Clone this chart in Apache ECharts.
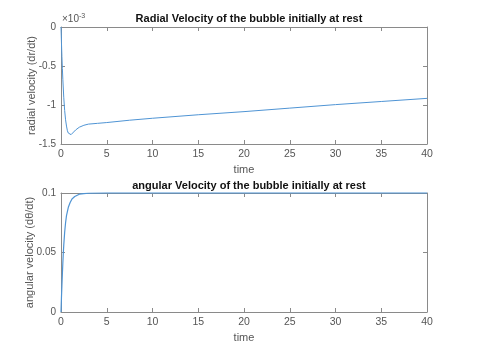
<!DOCTYPE html>
<html lang="en">
<head>
  <meta charset="UTF-8">
  <title>bubble velocity</title>
</head>
<body style="margin:0;background:#fff;">
  <div id="main" style="width: 481px; height:351px;"></div>
  <script src="https://cdn.jsdelivr.net/npm/echarts@6/dist/echarts.min.js"></script>
  <script type="text/javascript">
    // radial velocity, values in units of 1e-3
    var tRadial = [0, 0.05, 0.1, 0.15, 0.2, 0.3, 0.4, 0.5, 0.6, 0.7, 0.8, 0.9, 1.0, 1.1, 1.3, 1.6, 2, 2.5, 3, 4, 5, 7.5, 10, 15, 20, 25, 30, 35, 40];
    var vRadial = [0, -0.2, -0.38, -0.53, -0.67, -0.9, -1.07, -1.19, -1.27, -1.33, -1.36, -1.38, -1.385, -1.38, -1.36, -1.32, -1.285, -1.26, -1.245, -1.235, -1.225, -1.195, -1.17, -1.125, -1.085, -1.04, -0.995, -0.955, -0.915];
    // angular velocity
    var tAngular = [0, 0.05, 0.1, 0.15, 0.2, 0.25, 0.3, 0.4, 0.5, 0.6, 0.8, 1.0, 1.2, 1.5, 2, 2.5, 3, 5, 10, 20, 30, 40];
    var vAngular = [0, 0.012, 0.022, 0.032, 0.041, 0.049, 0.056, 0.067, 0.075, 0.081, 0.088, 0.092, 0.095, 0.097, 0.099, 0.0995, 0.0998, 0.1, 0.1, 0.1, 0.1, 0.1];

    function pairs(xs, ys) {
      return xs.map(function (x, i) { return [x, ys[i]]; });
    }

    var font = 'Liberation Sans, Arial, sans-serif';
    var boxColor = '#8a8a8a';
    var labelColor = '#555';
    var lineColor = '#4f94d4';

    function xAxisDef(gridIndex, withLabels) {
      return {
        type: 'value', gridIndex: gridIndex, min: 0, max: 40, interval: 5,
        position: withLabels ? 'bottom' : 'top',
        name: withLabels ? 'time' : '', nameLocation: 'middle', nameGap: 20,
        nameMoveOverlap: false,
        nameTextStyle: { fontFamily: font, fontSize: 11, color: labelColor },
        axisLine: { onZero: false, lineStyle: { color: boxColor } },
        axisTick: { inside: true, length: 4, lineStyle: { color: boxColor } },
        axisLabel: { show: withLabels, fontFamily: font, fontSize: 10.5, color: labelColor, margin: 5 },
        splitLine: { show: false }
      };
    }

    function yAxisDef(gridIndex, min, max, interval, name, withLabels, gap) {
      return {
        type: 'value', gridIndex: gridIndex, min: min, max: max, interval: interval,
        position: withLabels ? 'left' : 'right',
        name: withLabels ? name : '', nameLocation: 'middle', nameGap: gap || 28, nameRotate: 90,
        nameMoveOverlap: false,
        nameTextStyle: { fontFamily: font, fontSize: 11, color: labelColor },
        axisLine: { show: true, onZero: false, lineStyle: { color: boxColor } },
        axisTick: { show: true, inside: true, length: 4, lineStyle: { color: boxColor } },
        axisLabel: { show: withLabels, fontFamily: font, fontSize: 10, color: labelColor, margin: 5 },
        splitLine: { show: false }
      };
    }

    var myChart = echarts.init(document.getElementById('main'));
    var option = {
      animation: false,
      backgroundColor: '#fff',
      title: [
        { text: 'Radial Velocity of the bubble initially at rest', left: 244, top: 8, textAlign: 'center',
          textStyle: { fontFamily: font, fontSize: 11, fontWeight: 'bold', color: '#111' } },
        { text: 'angular Velocity of the bubble initially at rest', left: 244, top: 175, textAlign: 'center',
          textStyle: { fontFamily: font, fontSize: 11, fontWeight: 'bold', color: '#111' } }
      ],
      grid: [
        { left: 61, top: 27, width: 366, height: 117 },
        { left: 61, top: 193, width: 366, height: 119 }
      ],
      xAxis: [xAxisDef(0, true), xAxisDef(0, false), xAxisDef(1, true), xAxisDef(1, false)],
      yAxis: [
        yAxisDef(0, -1.5, 0, 0.5, 'radial velocity (dr/dt)', true, 24),
        yAxisDef(0, -1.5, 0, 0.5, '', false),
        yAxisDef(1, 0, 0.1, 0.05, 'angular velocity (d\u03b8/dt)', true, 26),
        yAxisDef(1, 0, 0.1, 0.05, '', false)
      ],
      graphic: [{
        type: 'text', left: 62, top: 13,
        style: {
          text: '{a|\u00d710}{b|-3}', fill: labelColor, fontFamily: font,
          rich: { a: { fontSize: 10, fontFamily: font, fill: labelColor }, b: { fontSize: 7, fontFamily: font, fill: labelColor, verticalAlign: 'top', padding: [0, 0, 6, 0] } }
        }
      }],
      series: [
        { type: 'line', xAxisIndex: 0, yAxisIndex: 0, showSymbol: false, smooth: false,
          lineStyle: { color: lineColor, width: 1 }, data: pairs(tRadial, vRadial) },
        { type: 'line', xAxisIndex: 2, yAxisIndex: 2, showSymbol: false, smooth: false, clip: false,
          lineStyle: { color: lineColor, width: 1.2 }, data: pairs(tAngular, vAngular) }
      ]
    };
    myChart.setOption(option);
  </script>
</body>
</html>
